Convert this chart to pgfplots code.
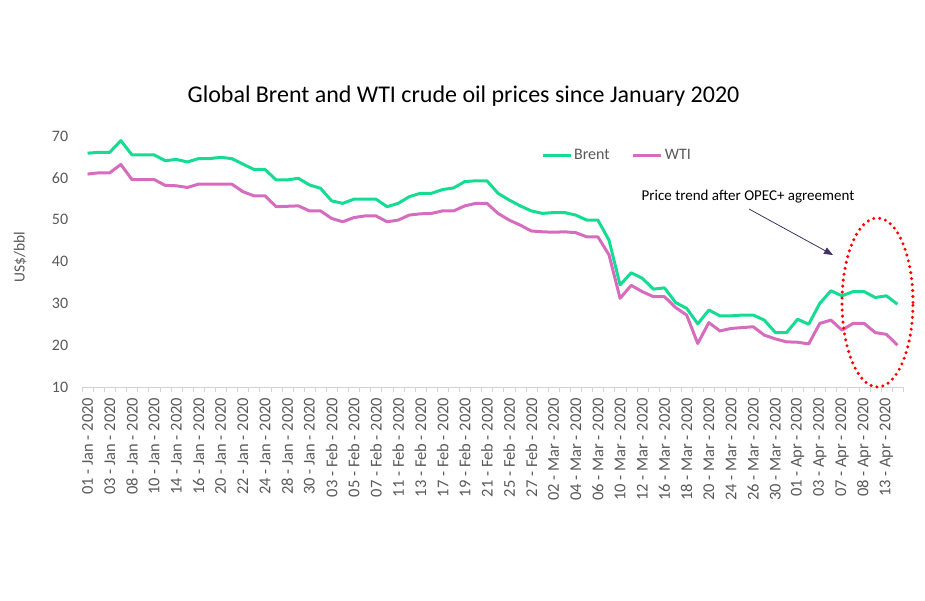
\documentclass[border=0pt]{standalone}
\usepackage{fontspec}
\setmainfont{Carlito}
\usepackage{pgfplots}
\pgfplotsset{compat=1.18}
\usepackage{pgfplotstable}
\usetikzlibrary{arrows.meta}

\definecolor{brent}{RGB}{22,219,147}
\definecolor{wti}{RGB}{214,108,190}
\definecolor{txtgray}{RGB}{89,89,89}
\definecolor{axgray}{RGB}{210,210,210}
\definecolor{arrowc}{RGB}{64,49,102}

% trading days from 1 Jan 2020, US$/bbl
\pgfplotstableread{
i  brent wti
0  65.9 60.9
1  66.1 61.2
2  66.1 61.2
3  68.9 63.2
4  65.5 59.6
5  65.5 59.6
6  65.5 59.6
7  64.1 58.2
8  64.4 58.1
9  63.8 57.7
10 64.6 58.5
11 64.6 58.5
12 64.9 58.5
13 64.6 58.5
14 63.3 56.7
15 62.0 55.7
16 62.0 55.7
17 59.5 53.1
18 59.5 53.2
19 59.9 53.3
20 58.3 52.1
21 57.5 52.1
22 54.5 50.3
23 53.9 49.5
24 54.9 50.5
25 54.9 50.9
26 54.9 50.9
27 53.1 49.5
28 53.9 49.9
29 55.5 51.1
30 56.3 51.4
31 56.3 51.5
32 57.2 52.1
33 57.6 52.1
34 59.1 53.3
35 59.3 53.9
36 59.3 53.9
37 56.3 51.5
38 54.7 49.9
39 53.3 48.7
40 52.1 47.3
41 51.5 47.1
42 51.7 47.0
43 51.7 47.1
44 51.1 46.9
45 49.9 45.9
46 49.9 45.9
47 45.1 41.6
48 34.4 31.2
49 37.3 34.3
50 36.0 32.8
51 33.4 31.6
52 33.7 31.6
53 30.2 29.0
54 28.8 27.2
55 25.1 20.4
56 28.4 25.4
57 27.0 23.4
58 27.0 24.0
59 27.2 24.2
60 27.2 24.4
61 26.0 22.4
62 23.0 21.5
63 23.0 20.8
64 26.2 20.7
65 25.0 20.3
66 30.0 25.2
67 33.0 26.0
68 31.8 23.6
69 32.8 25.2
70 32.8 25.2
71 31.4 23.0
72 31.8 22.6
73 29.8 20.0
}\oil

\begin{document}
\begin{tikzpicture}
\path[use as bounding box] (0pt,0pt) rectangle (925pt,-600pt);
\begin{axis}[
    at={(82pt,-387pt)}, anchor=south west,
    width=821pt, height=251pt, scale only axis,
    xmin=-0.5, xmax=73.5, ymin=10, ymax=70,
    axis lines*=left,
    x axis line style={draw=axgray, -},
    y axis line style={draw=none},
    title={Global Brent and WTI crude oil prices since January 2020},
    title style={at={(axis description cs:0.4647,1.135)}, anchor=center,
        font=\fontsize{24}{24}\selectfont},
    ylabel={US\$/bbl},
    ylabel style={at={(axis description cs:-0.0755,0.518)}, anchor=center,
        font=\fontsize{15.5}{15.5}\selectfont, text=txtgray},
    ytick={10,20,...,70},
    ytick style={draw=none},
    yticklabel style={font=\fontsize{16}{16}\selectfont, text=txtgray, xshift=-6pt},
    /pgf/number format/assume math mode=true,
    xtick={0,2,...,72},
    xticklabels={01 - Jan - 2020, 03 - Jan - 2020, 08 - Jan - 2020, 10 - Jan - 2020,
        14 - Jan - 2020, 16 - Jan - 2020, 20 - Jan - 2020, 22 - Jan - 2020,
        24 - Jan - 2020, 28 - Jan - 2020, 30 - Jan - 2020, 03 - Feb - 2020,
        05 - Feb - 2020, 07 - Feb - 2020, 11 - Feb - 2020, 13 - Feb - 2020,
        17 - Feb - 2020, 19 - Feb - 2020, 21 - Feb - 2020, 25 - Feb - 2020,
        27 - Feb - 2020, 02 - Mar - 2020, 04 - Mar - 2020, 06 - Mar - 2020,
        10 - Mar - 2020, 12 - Mar - 2020, 16 - Mar - 2020, 18 - Mar - 2020,
        20 - Mar - 2020, 24 - Mar - 2020, 26 - Mar - 2020, 30 - Mar - 2020,
        01 - Apr - 2020, 03 - Apr - 2020, 07 - Apr - 2020, 08 - Apr - 2020,
        13 - Apr - 2020},
    xticklabel style={rotate=90, anchor=east, font=\fontsize{16.5}{16.5}\selectfont,
        text=txtgray},
    xticklabel shift=3pt,
    major x tick style={draw=none},
    minor xtick={-0.5,0.5,...,73.5},
    minor x tick style={draw=axgray},
    tick align=outside,
    minor tick length=5pt,
    legend columns=2,
    legend style={at={(axis description cs:0.559,0.924)}, anchor=west,
        draw=none, fill=none, inner xsep=0pt,
        font=\fontsize{16}{16}\selectfont, text=txtgray,
        /tikz/every even column/.append style={column sep=20pt}},
    legend image code/.code={\draw[#1] (0pt,0pt) -- (28pt,0pt);},
]
\addplot[brent, line width=3pt, line join=round] table[x=i, y=brent] {\oil};
\addlegendentry{Brent}
\addplot[wti, line width=3pt, line join=round] table[x=i, y=wti] {\oil};
\addlegendentry{WTI}
\end{axis}
\node[font=\fontsize{15}{15}\selectfont] at (748pt,-197pt) {Price trend after OPEC+ agreement};
\draw[arrowc, line width=0.8pt, -{Triangle[length=9pt,width=7pt]}] (749pt,-209pt) -- (833pt,-255pt);
\draw[red, line width=3.4pt, line cap=round, dash pattern=on 0pt off 6pt]
    (877.5pt,-302.5pt) ellipse [x radius=35.5pt, y radius=84.5pt];
\end{tikzpicture}
\end{document}
